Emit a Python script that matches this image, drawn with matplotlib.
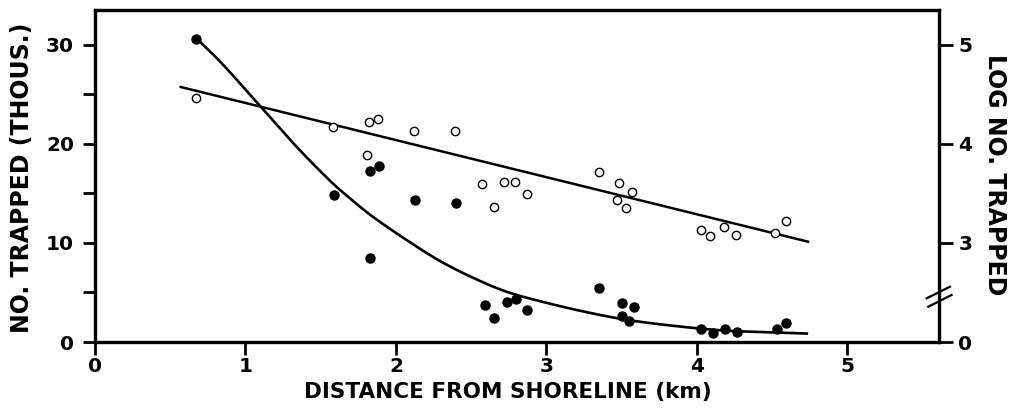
import matplotlib
matplotlib.use("Agg")
import matplotlib.pyplot as plt
import numpy as np

# ---------------- data ----------------
# Filled circles: number trapped (thousands) vs distance (km)
filled_x = [0.67, 1.59, 1.83, 1.83, 1.89, 2.13, 2.40, 2.59, 2.65, 2.74, 2.80, 2.87,
            3.35, 3.50, 3.50, 3.55, 3.58, 4.03, 4.11, 4.19, 4.27, 4.53, 4.59]
filled_y = [30.6, 14.8, 8.5, 17.3, 17.8, 14.3, 14.0, 3.7, 2.4, 4.0, 4.3, 3.2,
            5.4, 2.65, 3.95, 2.1, 3.5, 1.35, 0.95, 1.35, 1.05, 1.3, 1.9]

# Open circles: log number trapped vs distance (km)
open_x = [0.67, 1.58, 1.81, 1.82, 1.88, 2.12, 2.39, 2.57, 2.65, 2.72, 2.79, 2.87,
          3.35, 3.47, 3.48, 3.53, 3.57, 4.03, 4.09, 4.18, 4.26, 4.52, 4.59]
open_log = [4.46, 4.165, 3.89, 4.22, 4.25, 4.13, 4.125, 3.59, 3.365, 3.61, 3.61, 3.49,
            3.72, 3.43, 3.60, 3.35, 3.51, 3.13, 3.07, 3.16, 3.08, 3.10, 3.22]

# Fitted straight line (log scale)
logfit_x = [0.57, 4.74]
logfit_log = [4.573, 3.012]

# Fitted curve (thousands)
curve_x = [0.67, 0.85, 1.11, 1.34, 1.56, 1.71, 1.85, 2.07, 2.29, 2.51, 2.73, 2.95,
           3.24, 3.53, 3.84, 4.17, 4.50, 4.74]
curve_y = [30.7, 28.0, 23.6, 19.7, 16.3, 14.3, 12.6, 10.3, 8.2, 6.5, 5.1, 4.15,
           3.1, 2.25, 1.64, 1.17, 0.97, 0.85]

# Axis ticks
x_ticks = [0, 1, 2, 3, 4, 5]
left_ticks = [0, 10, 20, 30]
left_minor = [5, 15, 25]
right_tick_labels = ["0", "3", "4", "5"]
right_tick_logs = [2, 3, 4, 5]   # log value matching each left tick (0 is a broken axis)


def log_to_left(v):
    """map log values onto the left scale: log 3 -> 10, 4 -> 20, 5 -> 30"""
    return (np.asarray(v, dtype=float) - 2.0) * 10.0


def catmull_rom(xs, ys, n=20):
    """smooth drawing path through the given points"""
    p = np.column_stack([xs, ys]).astype(float)
    p = np.vstack([2 * p[0] - p[1], p, 2 * p[-1] - p[-2]])
    out = []
    t = np.linspace(0, 1, n, endpoint=False)[:, None]
    for i in range(1, len(p) - 2):
        p0, p1, p2, p3 = p[i - 1], p[i], p[i + 1], p[i + 2]
        seg = 0.5 * ((2 * p1) + (-p0 + p2) * t
                     + (2 * p0 - 5 * p1 + 4 * p2 - p3) * t ** 2
                     + (-p0 + 3 * p1 - 3 * p2 + p3) * t ** 3)
        out.append(seg)
    out.append(p[-2][None, :])
    out = np.vstack(out)
    return out[:, 0], out[:, 1]


# ---------------- figure ----------------
plt.rcParams['font.family'] = ['DejaVu Sans']
plt.rcParams['font.weight'] = 'bold'

fig = plt.figure(figsize=(10.10, 4.13), dpi=100)
ax = fig.add_axes([95/1010, 1 - 342/413, (939-95)/1010, (342-10)/413])

ax.set_xlim(0, 5.61)
ax.set_ylim(0, 33.5)

lw_spine = 2.3
for s in ax.spines.values():
    s.set_linewidth(lw_spine)
    s.set_color('black')

# curves
ax.plot(logfit_x, log_to_left(logfit_log), color='black', lw=1.8, zorder=2)
cx, cy = catmull_rom(curve_x, curve_y)
ax.plot(cx, cy, color='black', lw=1.9, zorder=2, solid_capstyle='butt')

# points
ax.plot(open_x, log_to_left(open_log), linestyle='none', marker='o',
        markersize=6, markerfacecolor='white', markeredgecolor='black',
        markeredgewidth=1.0, zorder=3)
ax.plot(filled_x, filled_y, linestyle='none', marker='o',
        markersize=6.5, markerfacecolor='black', markeredgecolor='black',
        zorder=3)

# ticks
ax.set_xticks(x_ticks)
ax.set_xticklabels([str(t) for t in x_ticks])
ax.set_yticks(left_ticks)
ax.set_yticklabels([str(t) for t in left_ticks])
ax.set_yticks(left_minor, minor=True)
ax.tick_params(axis='both', which='both', direction='out', width=2.0,
               labelsize=14.5, colors='black')
ax.tick_params(axis='y', which='both', length=9, pad=6)
ax.tick_params(axis='x', which='major', length=9, pad=2)
for lab in ax.get_xticklabels() + ax.get_yticklabels():
    lab.set_fontweight('bold')

ax2 = ax.twinx()
ax2.set_ylim(ax.get_ylim())
ax2.set_yticks(log_to_left(right_tick_logs))
ax2.set_yticklabels(right_tick_labels)
ax2.tick_params(axis='y', direction='out', width=2.0, length=10, pad=4,
                labelsize=14.5)
for lab in ax2.get_yticklabels():
    lab.set_fontweight('bold')
for s in ax2.spines.values():
    s.set_linewidth(lw_spine)

# axis break marks on the right axis
for (x0, x1, y0, y1) in [(0.9854, 1.0130, 0.1316, 0.1666),
                         (0.9873, 1.0149, 0.1063, 0.1416)]:
    ax2.plot([x0, x1], [y0, y1], transform=ax2.transAxes, color='black',
             lw=1.6, clip_on=False, zorder=5)

# labels
fig.text(0.5 * (236 + 779) / 1010, 1 - 392/413, "DISTANCE FROM SHORELINE (km)",
         ha='center', va='center', fontsize=15.5, fontweight='bold')
fig.text(22/1010, 1 - 178/413, "NO. TRAPPED (THOUS.)", rotation=90,
         ha='center', va='center', fontsize=17, fontweight='bold')
fig.text(995/1010, 1 - 175/413, "LOG NO. TRAPPED", rotation=270,
         ha='center', va='center', fontsize=17, fontweight='bold')

fig.savefig("out.png", dpi=100, facecolor='white')
